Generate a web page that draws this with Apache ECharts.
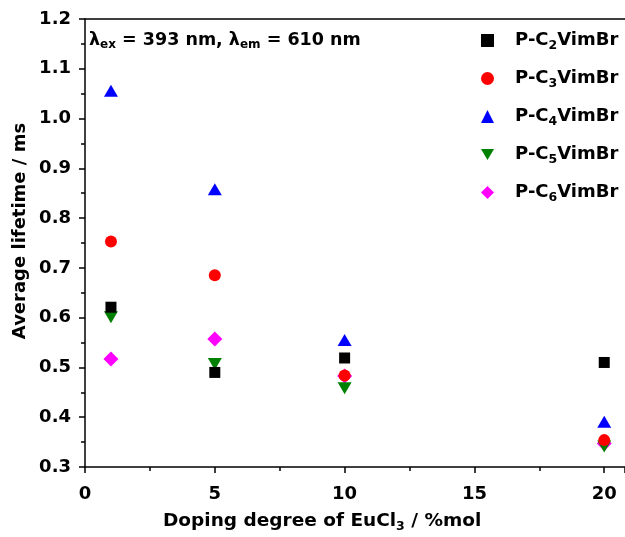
<!DOCTYPE html>
<html><head><meta charset="utf-8">
<script src="https://cdn.jsdelivr.net/npm/echarts@6/dist/echarts.min.js"></script>
<style>html,body{margin:0;padding:0;background:#fff}#c{width:625px;height:537px}</style>
</head><body><div id="c"></div>
<script>
const doping = [1, 5, 10, 20];
const c2 = [0.621, 0.490, 0.519, 0.510];
const c3 = [0.753, 0.685, 0.484, 0.354];
const c4 = [1.056, 0.858, 0.555, 0.391];
const c5 = [0.601, 0.507, 0.458, 0.341];
const c6 = [0.517, 0.557, 0.483, 0.347];
const seriesNames = ['P-C2VimBr','P-C3VimBr','P-C4VimBr','P-C5VimBr','P-C6VimBr'];
const subs = ['2','3','4','5','6'];
const colors = ['#000000','#ff0000','#0000ff','#008000','#ff00ff'];
const symbols = ['rect','circle','triangle','triangle','diamond'];
const rotates = [0,0,0,180,0];
const sizes = [[11,11],[12,12],[14,12],[14,12],[15,15]];
const values = [c2,c3,c4,c5,c6];
const FONT = '"DejaVu Sans", sans-serif';

const chart = echarts.init(document.getElementById('c'));
const series = seriesNames.map((n,i)=>({
  name:n, type:'scatter', symbol:symbols[i], symbolRotate:rotates[i], symbolSize:sizes[i],
  itemStyle:{color:colors[i], opacity:1}, z: 10-i,
  data: doping.map((d,j)=>[d, values[i][j]])
}));
const legRich = {
  a:{fontFamily:FONT,fontWeight:'bold',fontSize:18,color:'#000',lineHeight:20},
  s:{fontFamily:FONT,fontWeight:'bold',fontSize:12.5,color:'#000',lineHeight:20,padding:[10,0,0,0]}
};
const legendIcons = ['rect','circle','triangle','path://M0,0 L14,0 L7,12 Z','diamond'];
chart.setOption({
  animation:false,
  grid:{left:85,top:19,width:541,bottom:70},
  xAxis:[{
    type:'value', min:0, max:20.8, interval:5,
    axisLine:{show:true,lineStyle:{color:'#000',width:1.5}},
    axisTick:{show:true,length:6,lineStyle:{color:'#000',width:1.5}},
    minorTick:{show:true,splitNumber:2,length:4,lineStyle:{color:'#000',width:1.5}},
    splitLine:{show:false},
    axisLabel:{margin:18,color:'#000',fontFamily:FONT,fontWeight:'bold',fontSize:18,
      formatter:v=> (Math.abs(v%5)<1e-9 ? String(v) : ''), showMaxLabel:false}
  },{
    type:'value', position:'top', min:0, max:20.8,
    axisLine:{show:true,lineStyle:{color:'#000',width:1.5}},
    axisTick:{show:false}, axisLabel:{show:false}, splitLine:{show:false}
  }],
  yAxis:{
    type:'value', min:0.3, max:1.2, interval:0.1,
    axisLine:{show:true,lineStyle:{color:'#000',width:1.5}},
    axisTick:{show:true,length:6,lineStyle:{color:'#000',width:1.5}},
    minorTick:{show:true,splitNumber:2,length:4,lineStyle:{color:'#000',width:1.5}},
    splitLine:{show:false},
    axisLabel:{margin:14,color:'#000',fontFamily:FONT,fontWeight:'bold',fontSize:18,
      formatter:v=>v.toFixed(1)}
  },
  legend:{
    orient:'vertical', left:476, top:24, itemWidth:13, itemHeight:13, itemGap:15,
    data:seriesNames.map((n,i)=>({name:n, icon:legendIcons[i]})),
    formatter:n=>{const i=seriesNames.indexOf(n); return '{a|P-C}{s|'+subs[i]+'}{a|VimBr}';},
    textStyle:{padding:[0,0,0,16],rich:legRich}
  },
  graphic:[
    {type:'text', left:89, top:30, style:{
      text:'{a|λ}{s|ex}{a| = 393 nm, λ}{s|em}{a| = 610 nm}', rich:{
        a:{fontFamily:FONT,fontWeight:'bold',fontSize:17.5,color:'#000',lineHeight:20},
        s:{fontFamily:FONT,fontWeight:'bold',fontSize:12,color:'#000',lineHeight:20,padding:[9,0,0,0]}
      }}},
    {type:'text', left:163, top:510, style:{
      text:'{a|Doping degree of EuCl}{s|3}{a| / %mol}', rich:{
        a:{fontFamily:FONT,fontWeight:'bold',fontSize:18.5,color:'#000',lineHeight:20},
        s:{fontFamily:FONT,fontWeight:'bold',fontSize:12.5,color:'#000',lineHeight:20,padding:[10,0,0,0]}
      }}},
    {type:'text', x:20, y:231, rotation:Math.PI/2, style:{
      text:'Average lifetime / ms', align:'center', verticalAlign:'middle',
      fontFamily:FONT, fontWeight:'bold', fontSize:18, fill:'#000'}}
  ],
  series:series
});
</script></body></html>
